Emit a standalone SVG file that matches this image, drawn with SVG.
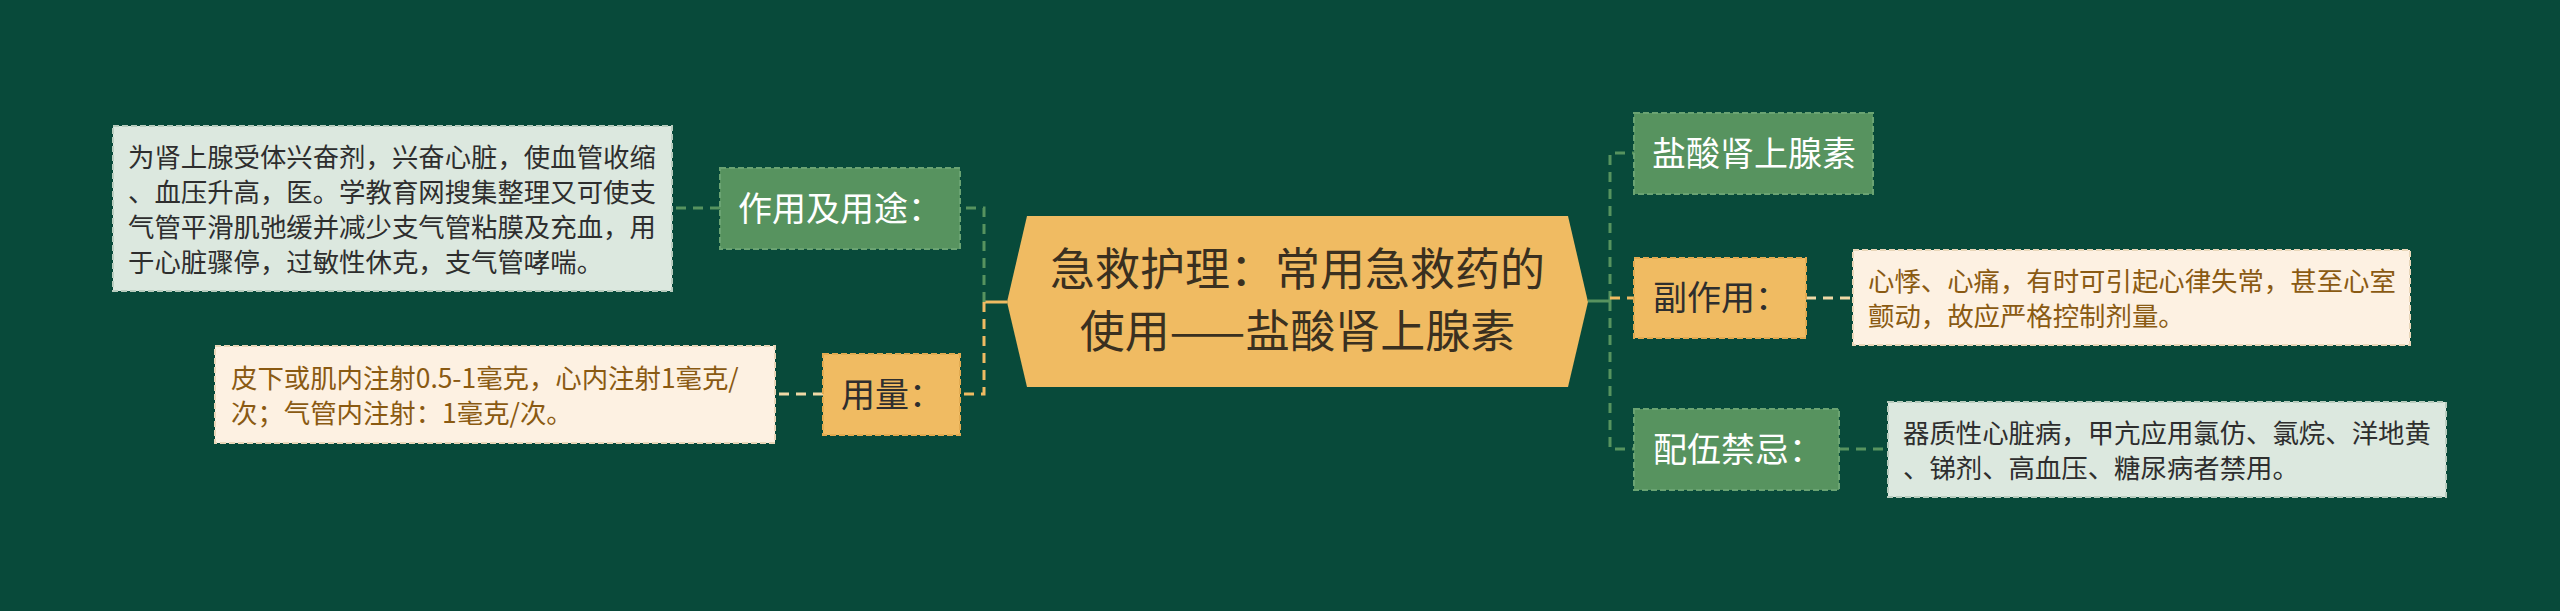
<svg xmlns="http://www.w3.org/2000/svg" width="2560" height="611" viewBox="0 0 2560 611">
<style>
text{font-family:"Noto Sans CJK SC","Noto Sans",sans-serif;}
.t26{font-size:26.4px;}
.t34{font-size:34px;}
.t45{font-size:45px;fill:#3a3020;}
.pg{fill:#dce8df;stroke:#b8ccbe;stroke-width:2;stroke-dasharray:6 3;}
.cr{fill:#fdf1e2;stroke:#e9d6b8;stroke-width:2;stroke-dasharray:6 3;}
.gn{fill:#57935f;stroke:#6aa372;stroke-width:2;stroke-dasharray:6 3;}
.or{fill:#f0bb62;stroke:#e2aa50;stroke-width:2;stroke-dasharray:6 3;}
.dk{fill:#2e2e2e;}
.br{fill:#8a5a12;}
.wh{fill:#ffffff;}
.cg{fill:none;stroke:#57935f;stroke-width:3;stroke-dasharray:10 7;}
.co{fill:none;stroke:#f0bb62;stroke-width:3;stroke-dasharray:10 7;}
.cy{fill:none;stroke:#efd9a6;stroke-width:3;stroke-dasharray:10 7;}
.cgs{fill:none;stroke:#57935f;stroke-width:3;}
.cos{fill:none;stroke:#f0bb62;stroke-width:3;}
</style>
<rect x="0" y="0" width="2560" height="611" fill="#084a3a"/>
<g id="connectors">
<path class="cos" d="M1007 302 H984"/>
<path class="cg" d="M984 302 V208 H960"/>
<path class="co" d="M984 302 V394 H960"/>
<path class="cg" d="M720 208 H672"/>
<path class="cy" d="M823 394 H775"/>
<path class="cgs" d="M1588 301 H1610"/>
<path class="cg" d="M1610 301 V153 H1634"/>
<path class="cg" d="M1610 301 V449 H1634"/>
<path class="co" d="M1610 298 H1634"/>
<path class="cy" d="M1806 298 H1853"/>
<path class="cg" d="M1839 449 H1888"/>
</g>
<g id="center">
<polygon points="1007,302 1027,216 1568,216 1588,302 1568,387 1027,387" fill="#f0bb62"/>
<text class="t45" x="1297.5" y="286" text-anchor="middle">急救护理：常用急救药的</text>
<text class="t45" x="1297.5" y="348" text-anchor="middle">使用——盐酸肾上腺素</text>
</g>
<g id="n-zuoyong">
<rect class="gn" x="720" y="168" width="240" height="81"/>
<text class="t34 wh" x="738" y="221">作用及用途：</text>
</g>
<g id="n-zuoyong-detail">
<rect class="pg" x="113" y="126" width="559" height="165"/>
<text class="t26 dk" x="128" y="166.5">为肾上腺受体兴奋剂，兴奋心脏，使血管收缩</text>
<text class="t26 dk" x="128" y="201.5">、血压升高，医。学教育网搜集整理又可使支</text>
<text class="t26 dk" x="128" y="236.5">气管平滑肌弛缓并减少支气管粘膜及充血，用</text>
<text class="t26 dk" x="128" y="271.5">于心脏骤停，过敏性休克，支气管哮喘。</text>
</g>
<g id="n-yongliang">
<rect class="or" x="823" y="354" width="137" height="81"/>
<text class="t34 dk" x="841" y="407">用量：</text>
</g>
<g id="n-yongliang-detail">
<rect class="cr" x="215" y="346" width="560" height="97"/>
<text class="t26 br" x="231" y="388">皮下或肌内注射0.5-1毫克，心内注射1毫克/</text>
<text class="t26 br" x="231" y="423">次；气管内注射：1毫克/次。</text>
</g>
<g id="n-yansuan">
<rect class="gn" x="1634" y="113" width="239" height="81"/>
<text class="t34 wh" x="1652" y="166">盐酸肾上腺素</text>
</g>
<g id="n-fuzuoyong">
<rect class="or" x="1634" y="258" width="172" height="80"/>
<text class="t34 dk" x="1653" y="310">副作用：</text>
</g>
<g id="n-fuzuoyong-detail">
<rect class="cr" x="1853" y="250" width="557" height="95"/>
<text class="t26 br" x="1868" y="291">心悸、心痛，有时可引起心律失常，甚至心室</text>
<text class="t26 br" x="1868" y="325.5">颤动，故应严格控制剂量。</text>
</g>
<g id="n-peiwu">
<rect class="gn" x="1634" y="409" width="205" height="81"/>
<text class="t34 wh" x="1653" y="462">配伍禁忌：</text>
</g>
<g id="n-peiwu-detail">
<rect class="pg" x="1888" y="402" width="558" height="95"/>
<text class="t26 dk" x="1903" y="443">器质性心脏病，甲亢应用氯仿、氯烷、洋地黄</text>
<text class="t26 dk" x="1903" y="477.5">、锑剂、高血压、糖尿病者禁用。</text>
</g>
</svg>
